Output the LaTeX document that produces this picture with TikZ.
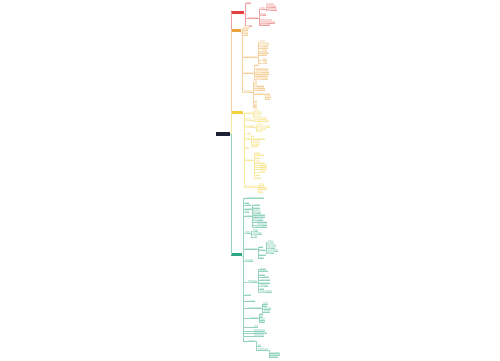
\documentclass[tikz,border=0pt]{standalone}
\usepackage{tikz}

\definecolor{rootc}{HTML}{1C2233}
\definecolor{redc}{HTML}{E2403F}
\definecolor{orac}{HTML}{E9A23B}
\definecolor{yelc}{HTML}{F1D23E}
\definecolor{grnc}{HTML}{2BA883}

\tikzset{
  leaf/.style={anchor=south west, inner sep=0pt, minimum height=1.5pt, fill=#1!22},
  mainbox/.style={anchor=west, inner sep=0pt, minimum height=2.8pt, fill=#1},
  wire/.style={#1!50, line width=0.25pt},
}

\begin{document}
\begin{tikzpicture}[x=1pt, y=-1pt]
    \fill[white] (0,0) rectangle (500,360);
    \useasboundingbox (0,0) rectangle (500,360);

    % Root and main branches
    \node[fill=rootc, inner sep=0pt, minimum width=14pt, minimum height=4pt] (root) at (223,134) {};
    \node[mainbox=redc, minimum width=13pt] (R) at (231,12.5) {};
    \node[mainbox=orac, minimum width=10pt] (O) at (231,30.5) {};
    \node[mainbox=yelc, minimum width=12pt] (Y) at (231,112.7) {};
    \node[mainbox=grnc, minimum width=11pt] (G) at (231,254.5) {};
    \foreach \b/\c in {R/redc,O/orac,Y/yelc,G/grnc}
        \draw[wire=\c] (root.east) -- ++(1,0) |- (\b.west);

    % Red branch
    \foreach \n/\p/\x/\y/\w in {r1/R/246/3.5/5, r2/R/248/18.5/10, r3/R/246/26.5/6,
        r21/r2/260/9/5, r211/r21/266/5/8, r212/r21/266/7/10, r213/r21/266/10/11,
        r22/r2/260/15/6, r23/r2/260/21/12, r24/r2/260/23/15, r25/r2/260/25.5/10} {
        \node[leaf=redc, minimum width=\w pt] (\n) at (\x,\y) {};
        \draw[wire=redc] (\p.south east) -- ++(1,0) |- (\n.south west) -- (\n.south east);
      }

    % Orange branch
    \foreach \n/\p/\x/\y/\w in {o1/O/243/28/6, o2/O/243/30.5/5, o3/O/243/33/5, o4/O/244/35.5/4,
        o5/O/244/57.5/13, o51/o5/260/42/5, o52/o5/260/44/9, o53/o5/261/46/7, o54/o5/261/48.5/7,
        o55/o5/262/51/5, o56/o5/260/53.5/9, o57/o5/262/55.5/5, o58/o5/262/60/5, o59/o5/263/63/4,
        o6/O/244/73.5/9, o61/o6/255/65.5/4, o62/o6/256/69.5/12, o63/o6/256/72/13,
        o64/o6/256/74.5/13, o65/o6/256/76.5/12, o66/o6/256/79/12,
        o7/O/244/92/8, o71/o7/254/82/3, o72/o7/254/84/3, o73/o7/257/86.5/7, o74/o7/257/88.5/8,
        o75/o7/258/90.5/7, o76/o7/254/94.5/10, o761/o76/267/94.5/3, o762/o76/267/97/4,
        o763/o76/267/99.5/3, o77/o7/254/102/3, o78/o7/254/105.5/3, o79/o7/254/107.5/3} {
        \node[leaf=orac, minimum width=\w pt] (\n) at (\x,\y) {};
        \draw[wire=orac] (\p.south east) -- ++(1,0) |- (\n.south west) -- (\n.south east);
      }

    % Yellow branch
    \foreach \n/\p/\x/\y/\w in {y1/Y/245/113.5/7, y11/y1/254/111/5, y12/y1/254/113/8,
        y13/y1/254/115/5, y14/y1/254/117/7, y2/Y/245/120/8, y21/y2/255/119/12, y22/y2/257/121.5/12,
        y3/Y/245/127/10, y31/y3/257/125/5, y32/y3/257/127/13, y33/y3/258/129/8, y34/y3/258/131/4,
        y4/Y/247/134/4, y5/Y/245/139/5, y51/y5/252/136.5/2, y52/y5/253/139.5/12,
        y53/y5/253/142/7, y54/y5/253/144/7, y55/y5/253/146.5/5, y6/Y/246/148.5/3,
        y7/Y/245/160.5/8, y71/y7/255/153.5/5, y72/y7/256/155.5/8, y73/y7/255/158.5/5,
        y74/y7/256/162/4, y75/y7/258/163.5/7, y76/y7/260/165.5/7, y77/y7/260/167.5/7,
        y78/y7/260/169.5/7, y79/y7/260/172/5, y7a/y7/256/175.5/4, y7b/y7/257/178.5/4,
        y8/Y/245/187/12, y81/y8/259/185/5, y82/y8/259/187.5/7, y83/y8/259/189.5/8, y84/y8/259/192/4} {
        \node[leaf=yelc, minimum width=\w pt] (\n) at (\x,\y) {};
        \draw[wire=yelc] (\p.south east) -- ++(1,0) |- (\n.south west) -- (\n.south east);
      }

    % Green branch
    \foreach \n/\p/\x/\y/\w in {g1/G/246/198.5/18, g2/G/245/203.5/4, g3/G/247/205.5/4,
        g4/G/245/209.5/13, g5/G/245/212/4, g6/G/245/216.5/6,
        g61/g6/253/205.5/7, g62/g6/253/208.5/7, g63/g6/253/211/7, g64/g6/253/213/8,
        g65/g6/253/215.5/12, g66/g6/253/217.5/12, g67/g6/253/220/10, g68/g6/255/222.5/12,
        g69/g6/257/225/10, g6a/g6/255/227.5/12,
        g7/G/245/233/5, g71/g7/253/231/5, g72/g7/253/234/9, g73/g7/254/237/3,
        g8/G/245/249.5/12, g81/g8/259/247.5/4, g82/g8/259/250.5/6,
        g821/g82/268/242/5, g822/g82/268/244/6, g823/g82/268/246/8, g824/g82/268/248/7,
        g825/g82/268/251/10, g826/g82/268/253/6,
        g83/g8/259/255.5/7, g84/g8/259/258.5/5, g9/G/245/261/8,
        g10/G/248/282/9, g101/g10/260/269.5/6, g102/g10/260/271.5/8, g103/g10/260/275.5/5,
        g104/g10/264/277.5/5, g105/g10/260/280.5/10, g106/g10/260/283.5/10, g107/g10/260/286/8,
        g108/g10/260/289.5/4, g109/g10/260/292/12,
        g11/G/245/295.5/6, g12/G/249/301.5/6,
        g13/G/248/308.5/13, g131/g13/263/304/5, g132/g13/263/306.5/4, g133/g13/264/309/7,
        g134/g13/264/312/6,
        g14/G/250/318.5/8, g141/g14/260/314.5/3, g142/g14/260/317/3, g143/g14/260/320/5,
        g144/g14/260/322.5/5,
        g15/G/254/327/4, g16/G/254/331/11, g17/G/254/333.5/13, g18/G/254/336/10,
        g19/G/248/341.5/7, g191/g19/258/346/3, g192/g19/258/350/10,
        g1921/g192/270/353.5/10, g1922/g192/270/355.5/10, g1923/g192/270/357.5/8} {
        \node[leaf=grnc, minimum width=\w pt] (\n) at (\x,\y) {};
        \draw[wire=grnc] (\p.south east) -- ++(1,0) |- (\n.south west) -- (\n.south east);
      }
  \end{tikzpicture}
\end{document}
